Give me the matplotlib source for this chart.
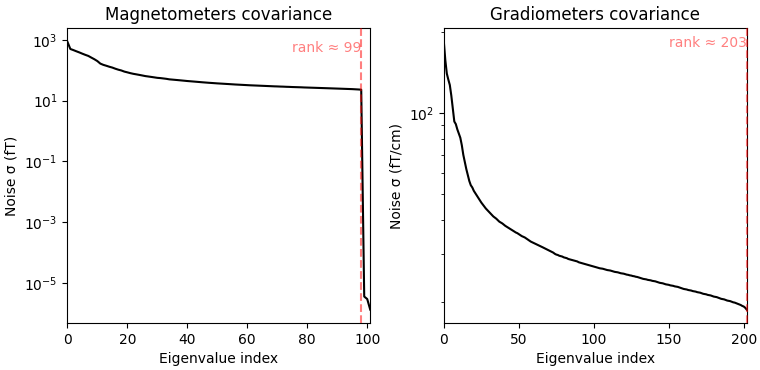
"""
Noise covariance eigenvalue spectra (magnetometers / gradiometers).
"""

import matplotlib
matplotlib.use("Agg")
import matplotlib.pyplot as plt
import numpy as np

TITLES = ["Magnetometers covariance", "Gradiometers covariance"]
UNITS = ["fT", "fT/cm"]
RANKS = [99, 203]

# singular values, one per eigenvalue index
MAG_SIGMA = [
    880, 500, 460, 420, 385, 350, 320, 295, 260, 230,
    200, 165, 150, 140, 130, 122, 112, 104, 98, 90,
    85, 80, 76, 73, 70, 67, 64, 62, 60, 58,
    56, 55, 53.5, 52, 50, 49, 48, 47, 46, 45,
    44, 43.2, 42.4, 41.6, 40.8, 40.0, 39.3, 38.6, 38.0, 37.4,
    36.8, 36.3, 35.8, 35.3, 34.8, 34.3, 33.8, 33.4, 33.0, 32.6,
    32.2, 31.8, 31.5, 31.2, 30.9, 30.6, 30.3, 30.0, 29.7, 29.4,
    29.2, 28.9, 28.7, 28.4, 28.2, 27.9, 27.7, 27.5, 27.3, 27.0,
    26.8, 26.6, 26.4, 26.2, 26.0, 25.8, 25.6, 25.4, 25.2, 25.0,
    24.8, 24.6, 24.4, 24.2, 24.0, 23.8, 23.5, 23.2, 22.8, 3.5e-6,
    2.9e-6, 1.3e-6,
]

GRAD_SIGMA = [
    184, 157, 140, 133, 127, 116, 104, 93, 91, 87,
    84, 81, 76, 70, 66, 62, 59, 56, 54, 53,
    51.5, 50.5, 49.5, 48.5, 47.5, 46.6, 45.8, 45.0, 44.3, 43.7,
    43.1, 42.5, 41.9, 41.4, 41.0, 40.6, 40.1, 39.6, 39.3, 39.0,
    38.6, 38.2, 37.9, 37.6, 37.3, 37.0, 36.7, 36.4, 36.1, 35.9,
    35.6, 35.3, 35.0, 34.8, 34.6, 34.3, 34.0, 33.7, 33.4, 33.2,
    33.0, 32.8, 32.6, 32.4, 32.2, 32.0, 31.8, 31.6, 31.4, 31.2,
    31.0, 30.8, 30.6, 30.4, 30.1, 29.9, 29.8, 29.6, 29.5, 29.4,
    29.2, 29.1, 29.0, 28.8, 28.7, 28.6, 28.5, 28.4, 28.3, 28.2,
    28.0, 27.9, 27.8, 27.7, 27.6, 27.5, 27.4, 27.3, 27.2, 27.1,
    27.0, 26.9, 26.8, 26.7, 26.6, 26.55, 26.5, 26.4, 26.3, 26.2,
    26.15, 26.1, 26.0, 25.9, 25.8, 25.75, 25.7, 25.6, 25.5, 25.45,
    25.4, 25.3, 25.2, 25.15, 25.05, 25.0, 24.9, 24.85, 24.75, 24.7,
    24.6, 24.5, 24.4, 24.3, 24.25, 24.2, 24.1, 24.05, 24.0, 23.9,
    23.85, 23.8, 23.7, 23.6, 23.5, 23.45, 23.4, 23.3, 23.2, 23.15,
    23.1, 23.0, 22.95, 22.9, 22.8, 22.75, 22.7, 22.6, 22.5, 22.4,
    22.3, 22.25, 22.2, 22.1, 22.05, 22.0, 21.9, 21.85, 21.8, 21.7,
    21.65, 21.6, 21.5, 21.4, 21.35, 21.3, 21.2, 21.15, 21.1, 21.0,
    20.9, 20.85, 20.8, 20.7, 20.6, 20.5, 20.45, 20.4, 20.3, 20.2,
    20.15, 20.1, 20.0, 19.9, 19.85, 19.75, 19.65, 19.55, 19.45, 19.3,
    19.2, 19.0, 18.7,
]

fig, axes = plt.subplots(1, 2, figsize=(7.6, 3.7))
for ax, s, title, unit, rank in zip(axes, [MAG_SIGMA, GRAD_SIGMA], TITLES, UNITS, RANKS):
    s = np.asarray(s)
    ax.plot(s, color="k", zorder=3)
    ax.axvline(rank - 1, ls="--", color="r", alpha=0.5, zorder=4, clip_on=False)
    # label sits at the linear-scale top, before switching to log
    ax.text(rank - 1, ax.get_ylim()[1], f"rank ≈ {rank:d}",
            ha="right", va="top", color="r", alpha=0.5, zorder=4)
    ax.set(ylabel=f"Noise σ ({unit})", yscale="log", xlabel="Eigenvalue index",
           title=title, xlim=[0, len(s) - 1])

fig.subplots_adjust(left=0.0886, right=0.9825, bottom=0.127, top=0.924, wspace=0.243)
fig.savefig("out.png", dpi=100)
